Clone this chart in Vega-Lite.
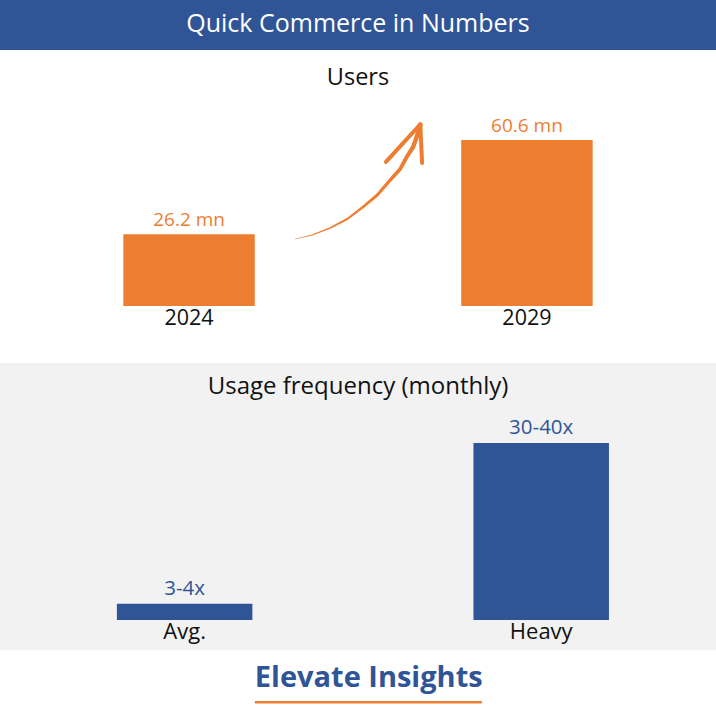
{
  "$schema": "https://vega.github.io/schema/vega-lite/v6.json",
  "background": "#ffffff",
  "padding": 0,
  "spacing": 0,
  "config": {"view": {"stroke": null}, "font": "Open Sans", "text": {"font": "Open Sans"}},
  "vconcat": [
    {
      "width": 716, "height": 50,
      "view": {"fill": "#2F5597", "stroke": null},
      "data": {"values": [{"t": "Quick Commerce in Numbers"}]},
      "mark": {"type": "text", "color": "#ffffff", "fontSize": 25, "baseline": "middle", "align": "center", "dy": -1},
      "encoding": {"text": {"field": "t"}}
    },
    {
      "width": 716, "height": 56,
      "data": {"values": [{"t": "Users"}]},
      "mark": {"type": "text", "color": "#111111", "fontSize": 23.5, "baseline": "middle", "align": "center"},
      "encoding": {"text": {"field": "t"}}
    },
    {
      "width": 716, "height": 257,
      "resolve": {"scale": {"x": "independent"}},
      "layer": [
        {
          "data": {"values": [{"year": "2024", "users": 26.2, "label": "26.2 mn"}, {"year": "2029", "users": 60.6, "label": "60.6 mn"}]},
          "layer": [
            {
              "mark": {"type": "bar", "color": "#ED7D31"},
              "encoding": {
                "x": {"field": "year", "type": "nominal", "axis": null, "scale": {"paddingInner": 0.611, "paddingOuter": 0.365}},
                "y": {"field": "users", "type": "quantitative", "axis": null, "scale": {"domain": [-20.81, 73.02], "nice": false, "zero": false}}
              }
            },
            {
              "mark": {"type": "text", "color": "#ED7D31", "fontSize": 19, "baseline": "alphabetic", "dy": -8},
              "encoding": {
                "x": {"field": "year", "type": "nominal", "axis": null},
                "y": {"field": "users", "type": "quantitative", "axis": null},
                "text": {"field": "label"}
              }
            },
            {
              "mark": {"type": "text", "color": "#111111", "fontSize": 21.5, "baseline": "top", "dy": 2},
              "encoding": {
                "x": {"field": "year", "type": "nominal", "axis": null},
                "y": {"datum": 0, "type": "quantitative", "axis": null},
                "text": {"field": "year"}
              }
            }
          ]
        },
        {
          "data": {"values": [
            {"px": 41.2, "py": 24.46, "w": 0.3},
            {"px": 43.6, "py": 25.92, "w": 1.0},
            {"px": 46.1, "py": 28.48, "w": 1.6},
            {"px": 48.5, "py": 31.76, "w": 2.1},
            {"px": 50.7, "py": 36.14, "w": 2.6},
            {"px": 52.7, "py": 40.53, "w": 3.0},
            {"px": 54.5, "py": 46.0, "w": 3.4},
            {"px": 55.9, "py": 50.02, "w": 3.7},
            {"px": 56.8, "py": 54.4, "w": 4.0},
            {"px": 57.7, "py": 58.05, "w": 4.3},
            {"px": 58.2, "py": 61.7, "w": 4.5},
            {"px": 58.5, "py": 64.26, "w": 4.7},
            {"px": 58.7, "py": 66.08, "w": 4.8}
          ]},
          "mark": {"type": "trail", "color": "#ED7D31"},
          "encoding": {
            "x": {"field": "px", "type": "quantitative", "axis": null, "scale": {"domain": [0, 100], "nice": false, "zero": false}},
            "y": {"field": "py", "type": "quantitative", "axis": null},
            "order": {"field": "px"},
            "size": {"field": "w", "type": "quantitative", "legend": null, "scale": {"domain": [0, 5], "range": [0, 5]}}
          }
        },
        {
          "data": {"values": [
            {"part": "a", "k": 0, "px": 53.9, "py": 52.6},
            {"part": "a", "k": 1, "px": 58.7, "py": 66.3},
            {"part": "b", "k": 0, "px": 58.7, "py": 66.3},
            {"part": "b", "k": 1, "px": 58.95, "py": 52.2}
          ]},
          "mark": {"type": "line", "color": "#ED7D31", "strokeWidth": 4, "strokeCap": "round", "strokeJoin": "round"},
          "encoding": {
            "x": {"field": "px", "type": "quantitative", "axis": null, "scale": {"domain": [0, 100], "nice": false, "zero": false}},
            "y": {"field": "py", "type": "quantitative", "axis": null},
            "detail": {"field": "part"},
            "order": {"field": "k"}
          }
        }
      ]
    },
    {
      "width": 716, "height": 47,
      "view": {"fill": "#F2F2F2", "stroke": null},
      "data": {"values": [{"t": "Usage frequency (monthly)"}]},
      "mark": {"type": "text", "color": "#111111", "fontSize": 24, "baseline": "middle", "align": "center"},
      "encoding": {"text": {"field": "t"}}
    },
    {
      "width": 716, "height": 240,
      "view": {"fill": "#F2F2F2", "stroke": null},
      "data": {"values": [{"type": "Avg.", "freq": 3.2, "label": "3-4x"}, {"type": "Heavy", "freq": 35, "label": "30-40x"}]},
      "encoding": {
        "x": {"field": "type", "type": "nominal", "axis": null, "scale": {"paddingInner": 0.62, "paddingOuter": 0.314, "align": 0.522}}
      },
      "layer": [
        {
          "mark": {"type": "bar", "color": "#2F5597"},
          "encoding": {
            "y": {"field": "freq", "type": "quantitative", "axis": null, "scale": {"domain": [-5.93, 41.53], "nice": false, "zero": false}}
          }
        },
        {
          "mark": {"type": "text", "color": "#2F5597", "fontSize": 20.5, "baseline": "alphabetic", "dy": -9},
          "encoding": {
            "y": {"field": "freq", "type": "quantitative", "axis": null},
            "text": {"field": "label"}
          }
        },
        {
          "mark": {"type": "text", "color": "#111111", "fontSize": 22, "baseline": "top", "dy": 2},
          "encoding": {
            "y": {"datum": 0, "type": "quantitative", "axis": null},
            "text": {"field": "type"}
          }
        }
      ]
    },
    {
      "width": 716, "height": 66,
      "layer": [
        {
          "data": {"values": [{"t": "Elevate Insights"}]},
          "mark": {"type": "text", "color": "#2F5597", "fontSize": 29, "fontWeight": "bold", "baseline": "middle", "align": "center"},
          "encoding": {
            "x": {"datum": 0.515, "type": "quantitative", "axis": null, "scale": {"domain": [0, 1], "nice": false, "zero": false}},
            "y": {"datum": 0.58, "type": "quantitative", "axis": null, "scale": {"domain": [0, 1], "nice": false, "zero": false}},
            "text": {"field": "t"}
          }
        },
        {
          "data": {"values": [{"a": 0.356, "b": 0.673, "h": 0.21}]},
          "mark": {"type": "rule", "color": "#ED7D31", "strokeWidth": 2.5},
          "encoding": {
            "x": {"field": "a", "type": "quantitative", "axis": null},
            "x2": {"field": "b"},
            "y": {"field": "h", "type": "quantitative", "axis": null}
          }
        }
      ]
    }
  ]
}
